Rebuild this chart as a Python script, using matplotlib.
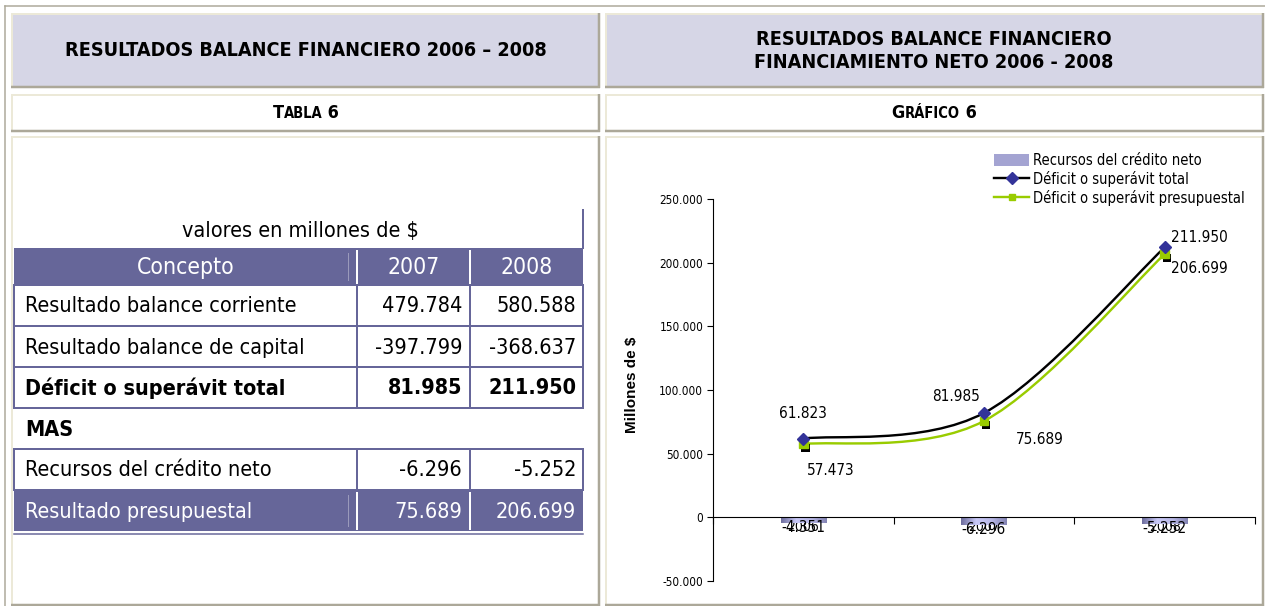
import numpy as np
import matplotlib.pyplot as plt
import matplotlib.patheffects as pe
from matplotlib.patches import Rectangle, PathPatch, Patch
from matplotlib.path import Path
from matplotlib.lines import Line2D
from matplotlib.ticker import FuncFormatter, FixedLocator
from matplotlib.offsetbox import TextArea, HPacker, AnnotationBbox
from matplotlib.colors import LinearSegmentedColormap

# DejaVu Sans condensada, parecida a Arial Narrow (tiene negrita)
NARROW = ['DejaVu Sans']
plt.rcParams['font.family'] = NARROW
plt.rcParams['font.stretch'] = 'condensed'

# Datos del grafico
years = ["2006", "2007", "2008"]
credito_neto = [-4351, -6296, -5252]
deficit_total = [61823, 81985, 211950]
deficit_presup = [57473, 75689, 206699]

# Datos de la tabla
table_head = ["Concepto", "2007", "2008"]
table_rows = ["Resultado balance corriente", "Resultado balance de capital",
              "Déficit o superávit total", "MAS", "Recursos del crédito neto",
              "Resultado presupuestal"]
table_2007 = ["479.784", "-397.799", "81.985", "", "-6.296", "75.689"]
table_2008 = ["580.588", "-368.637", "211.950", "", "-5.252", "206.699"]


def miles(v):
    return f"{int(v):,}".replace(",", ".")


PURPLE = '#666699'
LIGHT = '#ece9d8'
DARK = '#aca899'
HEAD = '#d6d6e6'

fig = plt.figure(figsize=(12.65, 6.06), dpi=100)
lay = fig.add_axes([0, 0, 1, 1])
lay.set_xlim(0, 1265)
lay.set_ylim(606, 0)
lay.axis('off')

px = 0.72  # 1 pixel in points


def cell(x0, y0, x1, y1, fill='white'):
    lay.add_patch(Rectangle((x0, y0), x1 - x0, y1 - y0, facecolor=fill, edgecolor='none'))
    lay.plot([x0 + 1, x0 + 1], [y0, y1], color=LIGHT, lw=2 * px, solid_capstyle='butt')
    lay.plot([x0, x1], [y0 + 1, y0 + 1], color=LIGHT, lw=2 * px, solid_capstyle='butt')
    lay.plot([x1 - 1, x1 - 1], [y0, y1], color=DARK, lw=2.5 * px, solid_capstyle='butt')
    lay.plot([x0, x1], [y1 - 1, y1 - 1], color=DARK, lw=2.5 * px, solid_capstyle='butt')


# marco exterior
lay.plot([5, 5], [6, 606], color=DARK, lw=1.5 * px)
lay.plot([5, 1265], [6, 6], color=DARK, lw=1.5 * px)

cell(11, 13, 600, 88, HEAD)
cell(605, 13, 1264, 88, HEAD)
cell(11, 94, 600, 132)
cell(605, 94, 1264, 132)
cell(11, 136, 600, 606)
cell(605, 136, 1264, 606)

lay.text(306, 51, "RESULTADOS BALANCE FINANCIERO 2006 – 2008", ha='center', va='center',
         fontsize=14.2, fontweight='bold')
lay.text(934, 51, "RESULTADOS BALANCE FINANCIERO\nFINANCIAMIENTO NETO 2006 - 2008",
         ha='center', va='center', fontsize=14.2, fontweight='bold', linespacing=1.3)


def small_caps(parts, xy):
    boxes = []
    for txt, big in parts:
        boxes.append(TextArea(txt, textprops=dict(fontsize=13 if big else 10.5,
                                                   fontweight='bold')))
    pack = HPacker(children=boxes, align='baseline', pad=0, sep=0)
    lay.add_artist(AnnotationBbox(pack, xy, xycoords='data', frameon=False,
                                  box_alignment=(0.5, 0.5)))


small_caps([("T", True), ("ABLA", False), (" 6", True)], (306, 113))
small_caps([("G", True), ("RÁFICO", False), (" 6", True)], (934, 113))

# ---- tabla ----
TX0, TX1 = 14, 583
cols = [14, 357, 470, 583]
row_y = [248, 285, 326, 367, 408, 449, 490, 531]
tsize = 15.5

lay.text(300, 231, "valores en millones de $", ha='center', va='center', fontsize=tsize)
lay.plot([TX1, TX1], [210, 248], color=PURPLE, lw=2 * px)

lay.add_patch(Rectangle((TX0, row_y[0]), TX1 - TX0, row_y[1] - row_y[0], facecolor=PURPLE))
lay.add_patch(Rectangle((TX0, row_y[6]), TX1 - TX0, row_y[7] - row_y[6], facecolor=PURPLE))
for ya, yb in [(row_y[0], row_y[1]), (row_y[6], row_y[7])]:
    for xc in cols[1:3]:
        lay.plot([xc, xc], [ya + 3, yb - 2], color='white', lw=2 * px)
    lay.plot([348, 348], [ya + 5, yb - 5], color='#9a9abb', lw=1 * px)
lay.plot([TX0, TX1], [534, 534], color=PURPLE, lw=1.5 * px)

for j, h in enumerate(table_head):
    lay.text((cols[j] + cols[j + 1]) / 2, (row_y[0] + row_y[1]) / 2 + 1, h, color='white',
             ha='center', va='center', fontsize=tsize + 1)

for i, name in enumerate(table_rows):
    ya, yb = row_y[i + 1], row_y[i + 2]
    ym = (ya + yb) / 2 + 1
    last = i == len(table_rows) - 1
    bold = name in ("Déficit o superávit total", "MAS")
    col = 'white' if last else 'black'
    wt = 'bold' if bold else 'normal'
    lay.text(25, ym, name, ha='left', va='center', fontsize=tsize, color=col, fontweight=wt)
    lay.text(cols[2] - 8, ym, table_2007[i], ha='right', va='center', fontsize=tsize,
             color=col, fontweight=wt)
    lay.text(cols[3] - 7, ym, table_2008[i], ha='right', va='center', fontsize=tsize,
             color=col, fontweight=wt)
    if name != "MAS" and not last:
        for xc in cols:
            lay.plot([xc, xc], [ya, yb], color=PURPLE, lw=2 * px, solid_capstyle='projecting')
        lay.plot([TX0, TX1], [ya, ya], color=PURPLE, lw=2 * px)
        lay.plot([TX0, TX1], [yb, yb], color=PURPLE, lw=2 * px)

# ---- grafico ----
ax = fig.add_axes([713 / 1265, 25 / 606, 542 / 1265, 382 / 606])
ax.set_facecolor('none')
xpos = np.arange(len(years)) + 0.5

bars = ax.bar(xpos, credito_neto, width=0.25, color='none', edgecolor='none', zorder=2)
grad = LinearSegmentedColormap.from_list('g', ['#6e6e9e', '#c9c9f7', '#b8b8e6', '#8484b4'])
gimg = np.linspace(0, 1, 64).reshape(1, -1)
for b in bars:
    x0, y0 = b.get_x(), b.get_y()
    im = ax.imshow(gimg, cmap=grad, aspect='auto', zorder=2,
                   extent=[x0, x0 + b.get_width(), y0 + b.get_height(), y0])
    im.set_clip_path(b)
for xv, v in zip(xpos, credito_neto):
    ax.annotate(miles(v), (xv, v), xytext=(0, -3), textcoords='offset points',
                ha='center', va='center', fontsize=11)


def smooth(xs, ys):
    pts = np.column_stack([xs, ys]).astype(float)
    n = len(pts)
    verts, codes = [pts[0]], [Path.MOVETO]
    for i in range(n - 1):
        p0, p1 = pts[max(i - 1, 0)], pts[i]
        p2, p3 = pts[i + 1], pts[min(i + 2, n - 1)]
        verts += [p1 + (p2 - p0) / 6, p2 - (p3 - p1) / 6, p2]
        codes += [Path.CURVE4] * 3
    return Path(verts, codes)


ax.add_patch(PathPatch(smooth(xpos, deficit_total), fill=False, edgecolor='black',
                       lw=2.4 * px, zorder=3))
ax.add_patch(PathPatch(smooth(xpos, deficit_presup), fill=False, edgecolor='#99cc00',
                       lw=2.4 * px, zorder=3))
ax.plot(xpos, deficit_presup, linestyle='none', marker='s', ms=6, color='#99cc00', zorder=4,
        path_effects=[pe.SimplePatchShadow(offset=(1.5, -3), shadow_rgbFace='black', alpha=1),
                      pe.Normal()])
ax.plot(xpos, deficit_total, linestyle='none', marker='D', ms=6.5, color='#333399', zorder=5)

tot_off = [(0, 18), (-20, 12), (25, 7)]
pre_off = [(20, -19), (40, -13), (25, -10)]
for xv, v, o in zip(xpos, deficit_total, tot_off):
    ax.annotate(miles(v), (xv, v), xytext=o, textcoords='offset points',
                ha='center', va='center', fontsize=11)
for xv, v, o in zip(xpos, deficit_presup, pre_off):
    ax.annotate(miles(v), (xv, v), xytext=o, textcoords='offset points',
                ha='center', va='center', fontsize=11)

ax.set_xlim(0, 3)
ax.set_ylim(-50000, 250000)
ax.yaxis.set_major_locator(FixedLocator([-50000, 0, 50000, 100000, 150000, 200000, 250000]))
ax.yaxis.set_major_formatter(FuncFormatter(lambda v, p: miles(v)))
ax.tick_params(axis='y', labelsize=8.5, length=4, width=0.8, pad=3)
ax.set_xticks(xpos)
ax.set_xticklabels(years, fontsize=7)
ax.tick_params(axis='x', length=0, pad=2)
ax.set_xticks([0, 1, 2, 3], minor=True)
ax.tick_params(axis='x', which='minor', length=5, width=0.8, direction='out')
for s in ['top', 'right']:
    ax.spines[s].set_visible(False)
ax.spines['bottom'].set_position(('data', 0))
ax.spines['left'].set_linewidth(0.8)
ax.spines['bottom'].set_linewidth(0.8)

fig.text(632 / 1265, 1 - 385 / 606, "Millones de $", rotation=90, ha='center', va='center',
         fontsize=11, fontweight='bold', family=['Liberation Sans', 'DejaVu Sans'],
         stretch='normal')

handles = [Patch(facecolor='#a4a4d2', edgecolor='none'),
           Line2D([], [], color='black', lw=2.4 * px, marker='D', ms=6, mfc='#333399', mec='#333399'),
           Line2D([], [], color='#99cc00', lw=2.4 * px, marker='s', ms=5, mfc='#99cc00', mec='#99cc00')]
labels = ["Recursos del crédito neto", "Déficit o superávit total",
          "Déficit o superávit presupuestal"]
fig.legend(handles, labels, loc='upper left', bbox_to_anchor=(994 / 1265, 1 - 153 / 606),
           frameon=False, fontsize=10.5, handlelength=2.4, handleheight=0.9,
           handletextpad=0.25, labelspacing=0.2, borderpad=0, borderaxespad=0)

fig.savefig('out.png', dpi=100)
